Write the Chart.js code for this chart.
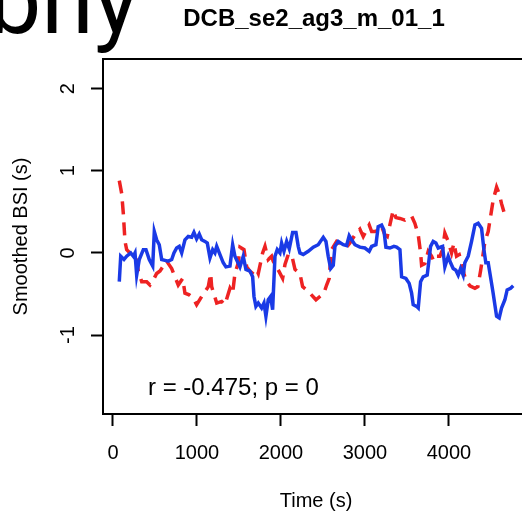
<!DOCTYPE html>
<html>
<head>
<meta charset="utf-8">
<script src="https://cdn.jsdelivr.net/npm/chart.js@4"></script>
<style>
  html, body { margin: 0; padding: 0; overflow: hidden; background: #fff; }
  canvas { display: block; }
</style>
</head>
<body>
<canvas id="bsi" width="540" height="515"></canvas>
<script>
const chartTitle = 'DCB_se2_ag3_m_01_1'
const statsText = 'r = -0.475; p = 0'
const cornerText = 'bny'
const xTicks = [0, 1000, 2000, 3000, 4000]
const yTicks = [-1, 0, 1, 2]

const blueTime = [75, 92, 131, 163, 211, 242, 262, 282, 313, 361, 393, 432, 473, 492, 520, 551, 580, 619, 658, 699,
    726, 758, 789, 818, 857, 896, 937, 964, 996, 1027, 1056, 1095, 1123, 1155, 1187, 1214, 1235, 1274, 1313, 1345,
    1393, 1425, 1452, 1480, 1512, 1551, 1583, 1631, 1663, 1679, 1702, 1730, 1770, 1798, 1821, 1849, 1877, 1901, 1929, 1956,
    1988, 2008, 2036, 2068, 2099, 2139, 2179, 2206, 2226, 2266, 2325, 2385, 2444, 2504, 2536, 2563, 2592, 2623, 2643, 2682,
    2742, 2782, 2813, 2842, 2881, 2940, 3000, 3051, 3080, 3131, 3158, 3199, 3226, 3250, 3298, 3345, 3377, 3417, 3437, 3488,
    3527, 3556, 3575, 3615, 3635, 3663, 3694, 3742, 3782, 3813, 3845, 3873, 3925, 3952, 3992, 4020, 4051, 4083, 4111, 4139,
    4170, 4190, 4230, 4270, 4310, 4349, 4389, 4417, 4440, 4468, 4508, 4527, 4568, 4599, 4627, 4667, 4694, 4735, 4766]
const blueBsi = [-0.35, -0.04, -0.08, -0.04, 0.0, -0.04, 0.0, -0.27, -0.08, 0.04, 0.04, -0.08, -0.16, 0.26, 0.16, 0.10, -0.08, -0.09, -0.10, -0.08,
    0.0, 0.06, 0.08, 0.0, 0.16, 0.20, 0.19, 0.25, 0.17, 0.23, 0.16, 0.14, 0.12, -0.06, 0.04, 0.0, 0.08, -0.02, -0.12, -0.17,
    -0.16, 0.10, -0.04, -0.10, -0.17, -0.04, -0.20, -0.22, -0.29, -0.53, -0.65, -0.61, -0.67, -0.61, -0.77, -0.57, -0.53, -0.69, -0.04, 0.04,
    0.0, 0.12, 0.02, 0.14, 0.05, 0.25, 0.25, 0.08, 0.0, -0.02, 0.02, 0.07, 0.10, 0.19, 0.14, -0.04, -0.19, -0.15, 0.08, 0.14,
    0.10, 0.09, 0.21, 0.16, 0.10, 0.07, 0.06, 0.02, 0.08, 0.10, 0.32, 0.34, 0.28, 0.07, 0.06, 0.08, 0.07, 0.04, -0.29, -0.31,
    -0.37, -0.49, -0.63, -0.65, -0.67, -0.35, -0.29, -0.27, 0.08, 0.14, 0.12, 0.06, 0.08, -0.17, -0.04, -0.12, -0.19, -0.21, -0.27, -0.19,
    -0.27, -0.12, -0.04, 0.14, 0.34, 0.36, 0.30, 0.04, -0.12, -0.12, -0.37, -0.49, -0.77, -0.79, -0.67, -0.57, -0.45, -0.43, -0.40]

const redTime = [75, 104, 123, 143, 163, 202, 242, 274, 301, 342, 401, 440, 480, 520, 560, 639, 699, 777, 830, 857,
    908, 956, 996, 1056, 1135, 1163, 1175, 1235, 1294, 1333, 1393, 1425, 1452, 1492, 1512, 1560, 1592, 1651, 1702, 1730,
    1782, 1810, 1849, 1889, 1908, 1949, 2020, 2048, 2087, 2127, 2167, 2226, 2258, 2306, 2345, 2417, 2464, 2512, 2544, 2575,
    2592, 2604, 2663, 2723, 2782, 2821, 2881, 2940, 2980, 3051, 3080, 3119, 3158, 3199, 3238, 3266, 3337, 3369, 3417, 3476,
    3515, 3556, 3595, 3635, 3663, 3675, 3714, 3754, 3794, 3821, 3853, 3893, 3925, 3952, 3992, 4032, 4060, 4091, 4123, 4151,
    4179, 4202, 4250, 4310, 4345, 4377, 4401, 4429, 4468, 4496, 4527, 4568, 4599, 4627, 4655]
const redBsi = [0.88, 0.72, 0.48, 0.14, 0.04, 0.0, -0.04, -0.04, -0.22, -0.35, -0.35, -0.39, -0.33, -0.25, -0.22, -0.10, -0.19, -0.39, -0.31, -0.49,
    -0.51, -0.55, -0.63, -0.53, -0.41, -0.25, -0.41, -0.61, -0.59, -0.63, -0.43, -0.49, -0.25, -0.12, 0.07, 0.04, -0.17, -0.25, -0.19, -0.25,
    0.0, 0.08, -0.08, -0.04, -0.10, -0.17, -0.31, -0.14, -0.02, -0.02, -0.20, -0.25, -0.41, -0.45, -0.49, -0.57, -0.53, -0.49, -0.39, -0.31,
    -0.08, 0.04, 0.14, 0.10, 0.07, 0.12, 0.22, 0.29, 0.20, 0.34, 0.26, 0.26, 0.28, 0.32, 0.22, 0.20, 0.52, 0.43, 0.42, 0.40,
    0.42, 0.45, 0.36, 0.22, 0.0, -0.15, -0.13, 0.02, -0.04, -0.10, -0.04, -0.04, 0.04, 0.24, 0.14, 0.0, 0.12, -0.04, -0.02, -0.12,
    -0.25, -0.33, -0.40, -0.43, -0.41, -0.22, -0.06, 0.14, 0.26, 0.44, 0.64, 0.80, 0.72, 0.60, 0.50]

const FONT = '"Liberation Sans", Arial, Helvetica, sans-serif'

function toPoints(times, values) {
    return times.map((t, i) => ({ x: t, y: values[i] }))
}

// R style box, title, rotated y labels and the text annotations
const rDecorations = {
    id: 'rDecorations',
    afterDraw(chart) {
        const ctx = chart.ctx
        const area = chart.chartArea
        const yScale = chart.scales.y
        ctx.save()
        ctx.strokeStyle = '#000'
        ctx.lineWidth = 2
        ctx.strokeRect(area.left, area.top, area.right - area.left, area.bottom - area.top)

        ctx.fillStyle = '#000'
        ctx.font = 'bold 24px ' + FONT
        ctx.textAlign = 'center'
        ctx.textBaseline = 'middle'
        ctx.fillText(chartTitle, 314, 19)

        ctx.font = '20px ' + FONT
        yTicks.forEach(v => {
            const py = yScale.getPixelForValue(v)
            ctx.save()
            ctx.translate(68, py)
            ctx.rotate(-Math.PI / 2)
            ctx.fillText(String(v), 0, 0)
            ctx.restore()
        })

        ctx.font = '24px ' + FONT
        ctx.textAlign = 'left'
        ctx.fillText(statsText, 148, 388)

        ctx.font = '95px Roboto, sans-serif'
        ctx.textBaseline = 'alphabetic'
        ctx.fillText(cornerText, -12, 33)
        ctx.restore()
    }
}

const tickGrid = {
    display: true,
    drawOnChartArea: false,
    drawTicks: true,
    tickLength: 12,
    tickWidth: 2,
    tickColor: '#000'
}

const config = {
    type: 'line',
    data: {
        datasets: [
            {
                label: 'blue',
                data: toPoints(blueTime, blueBsi),
                borderColor: '#1a3ae6',
                borderWidth: 3.5,
                pointRadius: 0,
                tension: 0,
                fill: false
            },
            {
                label: 'red',
                data: toPoints(redTime, redBsi),
                borderColor: '#ee2222',
                borderWidth: 3.5,
                borderDash: [13, 8],
                pointRadius: 0,
                tension: 0,
                fill: false
            }
        ]
    },
    options: {
        responsive: false,
        animation: false,
        devicePixelRatio: 1,
        layout: {
            padding: { left: 0, right: 11, top: 59, bottom: 0 }
        },
        plugins: {
            legend: { display: false },
            tooltip: { enabled: false },
            title: { display: false }
        },
        scales: {
            x: {
                type: 'linear',
                min: -119,
                max: 4954,
                afterBuildTicks: scale => { scale.ticks = xTicks.map(v => ({ value: v })) },
                afterFit: scale => { scale.height = 101 },
                border: { display: false },
                grid: tickGrid,
                ticks: {
                    color: '#000',
                    autoSkip: false,
                    maxRotation: 0,
                    padding: 15,
                    font: { family: FONT, size: 20 },
                    callback: v => String(v)
                },
                title: {
                    display: true,
                    text: 'Time (s)',
                    color: '#000',
                    font: { family: FONT, size: 20 },
                    padding: { top: 0, bottom: 2 }
                }
            },
            y: {
                type: 'linear',
                min: -1.96,
                max: 2.36,
                afterBuildTicks: scale => { scale.ticks = yTicks.map(v => ({ value: v })) },
                afterFit: scale => { scale.width = 103 },
                border: { display: false },
                grid: tickGrid,
                ticks: { display: false },
                title: {
                    display: true,
                    text: 'Smoothed BSI (s)',
                    color: '#000',
                    font: { family: FONT, size: 20 },
                    padding: { top: 9, bottom: 0 }
                }
            }
        }
    },
    plugins: [rDecorations]
}

new Chart(document.getElementById('bsi'), config)
</script>
</body>
</html>
